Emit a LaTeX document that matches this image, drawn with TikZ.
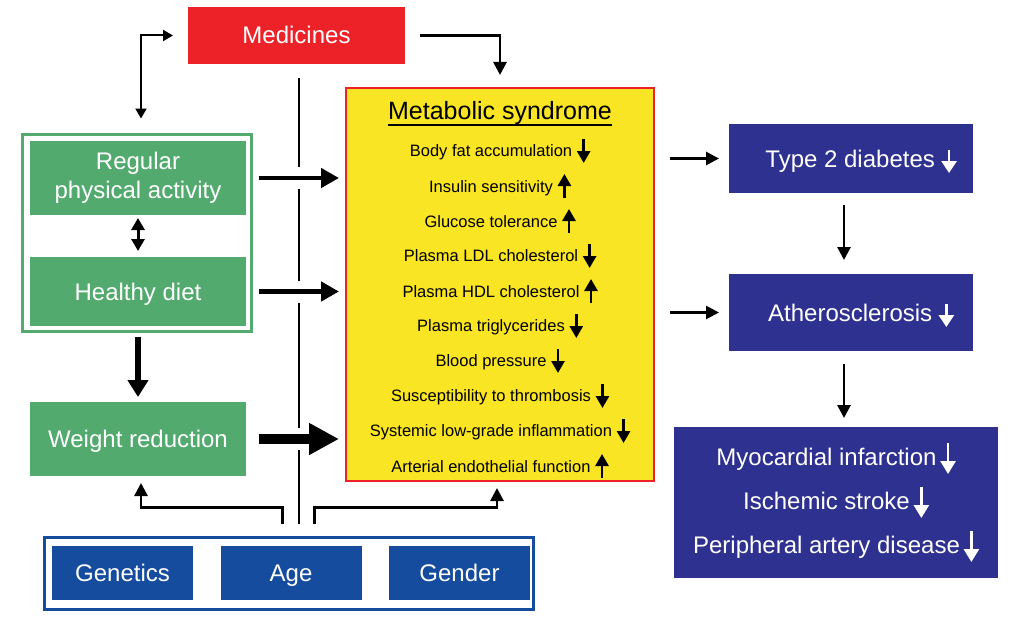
\documentclass[tikz,border=0pt]{standalone}
\usepackage{fontspec}
\setmainfont{Liberation Sans}
\usepackage[dvipsnames]{xcolor}
\usetikzlibrary{arrows.meta,positioning}

\definecolor{medred}{RGB}{237,34,40}
\definecolor{synyellow}{RGB}{249,229,35}
\definecolor{lifegreen}{RGB}{82,170,110}
\definecolor{outnavy}{RGB}{46,49,143}
\definecolor{riskblue}{RGB}{21,76,158}

\newcommand{\mdn}{\tikz[baseline=0pt]\draw[line width=2.7pt,-{Triangle[width=13pt,length=12pt]}] (0pt,17pt) -- (0pt,-7pt);}
\newcommand{\mup}{\tikz[baseline=0pt]\draw[line width=2.7pt,-{Triangle[width=13pt,length=12pt]}] (0pt,-6pt) -- (0pt,18pt);}
\newcommand{\wdn}{\tikz[baseline=0pt]\draw[white,line width=2.7pt,-{Triangle[width=15pt,length=12pt]}] (0pt,17pt) -- (0pt,-6pt);}
\newcommand{\wdnl}{\tikz[baseline=0pt]\draw[white,line width=2.7pt,-{Triangle[width=15pt,length=13pt]}] (0pt,22pt) -- (0pt,-9pt);}

\begin{document}
\begin{tikzpicture}[x=1pt,y=-1pt,thick,
  box/.style={rectangle,inner sep=0pt,outer sep=0pt,text=white,font=\fontsize{24}{29}\selectfont,align=center},
  one line/.style={text height=19pt,text depth=2pt},
  red box/.style={box,one line,fill=medred},
  green box/.style={box,fill=lifegreen,minimum width=216pt},
  navy box/.style={box,fill=outnavy},
  blue box/.style={box,one line,fill=riskblue,minimum width=141pt,minimum height=54pt},
  frame box/.style={rectangle,inner sep=0pt,outer sep=0pt,line width=3pt},
  item/.style={inner sep=0pt,font=\fontsize{16.5}{20}\selectfont},
  vline/.style={line width=2pt},
  gap/.style={preaction={draw=white,line width=22pt,-}},
  thin arrow/.style={line width=2pt,{Triangle[width=11pt,length=10pt]}-{Triangle[width=11pt,length=10pt]}},
  small both/.style={line width=3pt,{Triangle[width=13pt,length=12pt]}-{Triangle[width=13pt,length=12pt]}},
  mid arrow/.style={line width=2.7pt,-{Triangle[width=13pt,length=13pt]}},
  wt arrow/.style={line width=5.5pt,-{Triangle[width=20pt,length=17pt]}},
  fat arrow/.style={line width=4.5pt,-{Triangle[width=19pt,length=18pt]}},
  huge arrow/.style={line width=10pt,-{Triangle[width=30pt,length=30pt]}}]

  \useasboundingbox (0,0) rectangle (1014,618);

  \node[red box, minimum width=217pt, minimum height=57pt] (med) at (296.5,35.5) {Medicines};

  \node[frame box, draw=lifegreen, minimum width=229pt, minimum height=197pt] (grp) at (137,233) {};
  \node[green box, minimum height=74pt] (reg) at (138,178) {Regular\\physical activity};
  \node[green box, one line, minimum height=69pt] (diet) at (138,291.5) {Healthy diet};
  \node[green box, one line, minimum height=74pt] (wt) at (138,439) {Weight reduction};

  \node[frame box, draw=medred, fill=synyellow, line width=2.5pt, minimum width=308pt, minimum height=393pt] (meta) at (500,284.5) {};
  \node[item, font=\fontsize{25}{30}\selectfont] (title) at (500,113) {Metabolic syndrome};
  \draw[line width=2.5pt] (title.south west) -- (title.south east);
  \foreach \txt/\dir [count=\i from 0] in {Body fat accumulation/\mdn, Insulin sensitivity/\mup,
      Glucose tolerance/\mup, Plasma LDL cholesterol/\mdn, Plasma HDL cholesterol/\mup,
      Plasma triglycerides/\mdn, Blood pressure/\mdn, Susceptibility to thrombosis/\mdn,
      Systemic low-grade inflammation/\mdn, Arterial endothelial function/\mup}
    \node[item] (it\i) at (500,151+35*\i) {\txt\hspace{5pt}\dir};

  \node[navy box, one line, minimum width=244pt, minimum height=69pt] (t2d) at (851,158.5) {\hspace{20pt}Type 2 diabetes \wdn};
  \node[navy box, one line, minimum width=244pt, minimum height=77pt] (ath) at (851,312.5) {\hspace{20pt}Atherosclerosis \wdn};
  \node[navy box, minimum width=324pt, minimum height=151pt, font=\fontsize{24}{44}\selectfont] (cvd) at (836,502.5)
    {Myocardial infarction\,\wdnl\\Ischemic stroke\,\wdnl\\Peripheral artery disease\,\wdnl};

  \node[frame box, draw=riskblue, minimum width=489pt, minimum height=72pt] (bot) at (289,573.5) {};
  \node[blue box] (gen) at (122.5,573) {Genetics};
  \node[blue box, right=27.5pt of gen] (age) {Age};
  \node[blue box, right=27.5pt of age] (gend) {Gender};

  \path ([xshift=2pt]med.south |- bot.north) ++(0,-14) coordinate (vb);

  % vertical divider first, the arrows cut through it
  \draw[vline, shorten <=14pt] ([xshift=2pt]med.south) -- (vb);

  \draw[mid arrow, shorten <=15pt, shorten >=13pt] (med.east) -| (meta.north);
  \draw[thin arrow, shorten <=16pt, shorten >=15pt] ([xshift=4pt]grp.north) |- (med.west);
  \draw[small both, shorten <=3pt, shorten >=6pt] (reg.south) -- (diet.north);
  \draw[wt arrow, shorten <=5pt, shorten >=5pt] (grp.south -| wt.north) -- (wt.north);

  \draw[fat arrow, gap, shorten <=7pt, shorten >=7pt] (grp.east |- reg.east) -- (meta.west |- reg.east);
  \draw[fat arrow, gap, shorten <=7pt, shorten >=7pt] (grp.east |- diet.east) -- (meta.west |- diet.east);
  \draw[huge arrow, gap, shorten <=13pt, shorten >=7pt] (wt.east) -- (meta.west |- wt.east);

  \draw[mid arrow, shorten <=16pt, shorten >=10pt] (meta.east |- t2d.west) -- (t2d.west);
  \draw[mid arrow, shorten <=16pt, shorten >=10pt] (meta.east |- ath.west) -- (ath.west);
  \draw[mid arrow, shorten <=12pt, shorten >=14pt] ([xshift=-7pt]t2d.south) -- ([xshift=-7pt]ath.north);
  \draw[mid arrow, shorten <=13pt, shorten >=9pt] ([xshift=8pt]cvd.north |- ath.south) -- ([xshift=8pt]cvd.north);

  \draw[mid arrow, shorten >=7pt] ([xshift=-16pt]vb) -- ++(0,-16) -| ([xshift=3pt]wt.south);
  \draw[mid arrow, shorten >=7pt] ([xshift=16pt]vb) -- ++(0,-16) -| ([xshift=-3pt]meta.south);

\end{tikzpicture}
\end{document}
